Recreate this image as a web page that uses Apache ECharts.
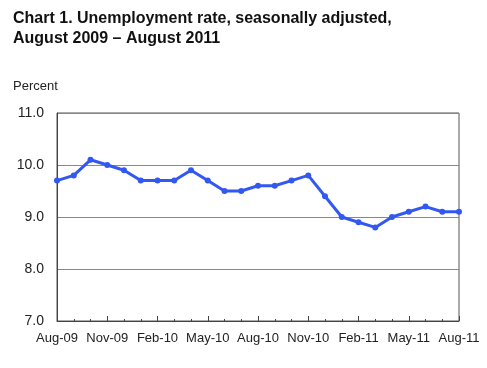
<!DOCTYPE html>
<html><head><meta charset="utf-8">
<script src="https://cdn.jsdelivr.net/npm/echarts@6/dist/echarts.min.js"></script>
<style>html,body{margin:0;padding:0;background:#fff}#c{width:487px;height:368px}</style>
</head><body><div id="c"></div>
<script>
const months = ['Aug-09','Sep-09','Oct-09','Nov-09','Dec-09','Jan-10','Feb-10','Mar-10','Apr-10','May-10','Jun-10','Jul-10','Aug-10','Sep-10','Oct-10','Nov-10','Dec-10','Jan-11','Feb-11','Mar-11','Apr-11','May-11','Jun-11','Jul-11','Aug-11'];
const rate = [9.7,9.8,10.1,10.0,9.9,9.7,9.7,9.7,9.9,9.7,9.5,9.5,9.6,9.6,9.7,9.8,9.4,9.0,8.9,8.8,9.0,9.1,9.2,9.1,9.1];
const shownLabels = ['Aug-09','Nov-09','Feb-10','May-10','Aug-10','Nov-10','Feb-11','May-11','Aug-11'];
const titleLines = ['Chart 1. Unemployment rate, seasonally adjusted,','August 2009 \u2013 August 2011'];
const unitLabel = 'Percent';

const chart = echarts.init(document.getElementById('c'), null, {renderer:'canvas'});
const font = '"Liberation Sans", Arial, sans-serif';
chart.setOption({
  animation:false,
  backgroundColor:'#fff',
  title:[
    {text:titleLines.join('\n'), left:13, top:9, padding:0,
     textStyle:{fontFamily:font, fontSize:16, fontWeight:'bold', color:'#111', lineHeight:20}},
    {text:unitLabel, left:13, top:80, padding:0,
     textStyle:{fontFamily:font, fontSize:13, fontWeight:'normal', color:'#222'}}
  ],
  grid:{left:57, top:113, width:402, height:208, show:true, borderColor:'#555', borderWidth:1},
  xAxis:[
    {type:'category', data:months, boundaryGap:false,
     axisLine:{lineStyle:{color:'#444', width:1}},
     axisTick:{inside:true, length:5, interval:2, lineStyle:{color:'#444'}},
     axisLabel:{interval:2, margin:11, fontFamily:font, fontSize:13, color:'#222'},
     splitLine:{show:false}},
    {type:'category', data:months, boundaryGap:false, position:'bottom', offset:0,
     axisLine:{show:false},
     axisTick:{inside:true, length:2, interval:0, lineStyle:{color:'#444'}},
     axisLabel:{show:false}, splitLine:{show:false}}
  ],
  yAxis:{type:'value', min:7, max:11, interval:1,
    axisLine:{show:true, lineStyle:{color:'#444'}},
    axisTick:{show:false},
    axisLabel:{margin:13, fontFamily:font, fontSize:14, color:'#222', formatter:v=>v.toFixed(1)},
    splitLine:{lineStyle:{color:'#888', width:1}}},
  series:[{type:'line', data:rate, xAxisIndex:0,
    lineStyle:{color:'#3358F0', width:3},
    itemStyle:{color:'#3358F0'},
    symbol:'circle', symbolSize:6, showSymbol:true}]
});
</script></body></html>
